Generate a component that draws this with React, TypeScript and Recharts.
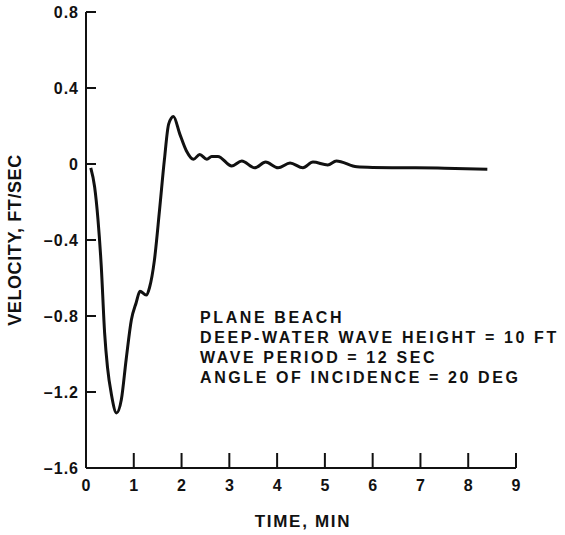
import React from "react";
import { LineChart, Line, XAxis, YAxis, Label, Customized } from "recharts";

const timeMin = [0.1, 0.18, 0.25, 0.32, 0.39, 0.45, 0.53, 0.64, 0.74, 0.84, 0.95, 1.05, 1.13, 1.26, 1.33, 1.43, 1.54, 1.64, 1.73, 1.83, 1.96, 2.1, 2.25, 2.38, 2.53, 2.63, 2.76, 3.05, 3.26, 3.53, 3.76, 4.02, 4.27, 4.54, 4.75, 5.06, 5.24, 5.67, 6.0, 6.9, 7.5, 8.4];
const velocity = [-0.02, -0.12, -0.29, -0.54, -0.89, -1.07, -1.21, -1.31, -1.24, -1.03, -0.82, -0.73, -0.67, -0.69, -0.65, -0.51, -0.24, 0.02, 0.21, 0.25, 0.16, 0.07, 0.025, 0.05, 0.025, 0.04, 0.04, -0.01, 0.016, -0.02, 0.01, -0.02, 0.005, -0.02, 0.01, -0.005, 0.016, -0.015, -0.018, -0.02, -0.022, -0.027];

const xTicks = [0, 1, 2, 3, 4, 5, 6, 7, 8, 9];
const yTicks = [-1.6, -1.2, -0.8, -0.4, 0, 0.4, 0.8];
const yTickLabels = ["–1.6", "–1.2", "–0.8", "–0.4", "0", "0.4", "0.8"];
const notes = [
  "PLANE BEACH",
  "DEEP-WATER WAVE HEIGHT = 10 FT",
  "WAVE PERIOD = 12 SEC",
  "ANGLE OF INCIDENCE = 20 DEG",
];

const data = timeMin.map((t, i) => ({ t, v: velocity[i] }));

const FONT = "'Liberation Sans', Arial, Helvetica, sans-serif";

const XTick = (props: any) => {
  const { x, y, payload } = props;
  return (
    <text x={x} y={y} dy="0.71em" textAnchor="middle" fontFamily={FONT} fontSize={16} fontWeight={700} fill="#111">
      {String(payload.value)}
    </text>
  );
};

const YTick = (props: any) => {
  const { x, y, payload } = props;
  const idx = yTicks.indexOf(payload.value);
  const label = idx >= 0 ? yTickLabels[idx] : String(payload.value);
  return (
    <text x={x} y={y} dy="0.36em" textAnchor="end" fontFamily={FONT} fontSize={16} fontWeight={700} letterSpacing={1} fill="#111">
      {label}
    </text>
  );
};

const Notes = () => (
  <g>
    {notes.map((n, i) => (
      <text
        key={i}
        x={200}
        y={323 + i * 20}
        fontFamily={FONT}
        fontSize={16}
        fontWeight={700}
        letterSpacing={2.6}
        fill="#111"
      >
        {n}
      </text>
    ))}
  </g>
);

export default function App() {
  return (
    <div style={{ position: "absolute", left: 0, top: 0, width: 565, height: 535, background: "#fff" }}>
      <LineChart width={565} height={535} data={data} margin={{ top: 12, right: 49, bottom: 0, left: 0 }}>
        <XAxis
          dataKey="t"
          type="number"
          domain={[0, 9]}
          ticks={xTicks}
          interval={0}
          height={67}
          axisLine={{ stroke: "#111", strokeWidth: 2 }}
          tickLine={{ stroke: "#111", strokeWidth: 2 }}
          tickSize={-15}
          tickMargin={27}
          tick={<XTick />}
        >
          <Label
            value="TIME, MIN"
            position="insideBottom"
            offset={8}
            dx={2}
            style={{ fontFamily: FONT, fontSize: 17, fontWeight: 700, fill: "#111", letterSpacing: 1.7 }}
          />
        </XAxis>
        <YAxis
          dataKey="v"
          type="number"
          domain={[-1.6, 0.8]}
          ticks={yTicks}
          interval={0}
          width={86}
          axisLine={{ stroke: "#111", strokeWidth: 2 }}
          tickLine={{ stroke: "#111", strokeWidth: 2 }}
          tickSize={-10}
          tickMargin={17}
          tick={<YTick />}
        >
          <Label
            value="VELOCITY, FT/SEC"
            angle={-90}
            position="insideLeft"
            offset={15}
            style={{ textAnchor: "middle", fontFamily: FONT, fontSize: 18, fontWeight: 700, fill: "#111", letterSpacing: 0.6 }}
          />
        </YAxis>
        <Line
          type="monotone"
          dataKey="v"
          stroke="#111"
          strokeWidth={3}
          dot={false}
          isAnimationActive={false}
        />
        <Customized component={Notes} />
      </LineChart>
    </div>
  );
}
